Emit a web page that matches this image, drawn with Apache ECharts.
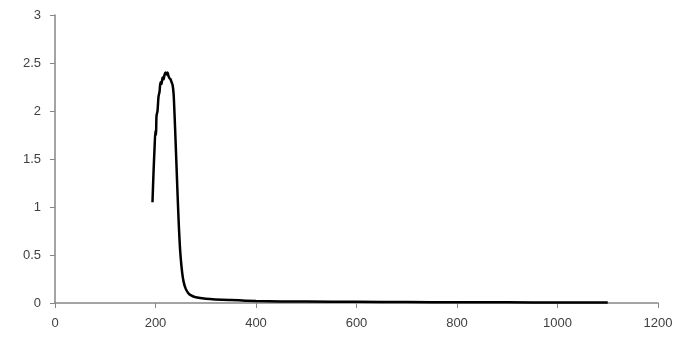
<!DOCTYPE html>
<html>
<head>
<meta charset="utf-8">
<script src="https://cdn.jsdelivr.net/npm/echarts@6/dist/echarts.min.js"></script>
<style>
    html, body { margin: 0; padding: 0; background: #fff; }
    #chart { width: 683px; height: 337px; }
</style>
</head>
<body>
<div id="chart"></div>
<script>
    var xValues = [194, 196, 198, 200, 201, 202, 204, 206, 208, 210, 212, 214, 216, 218, 220, 222, 224, 226, 228, 230,
        232, 234, 236, 238, 240, 242, 244, 246, 248, 250, 253, 256, 260, 265, 270, 280, 300, 350, 400, 500,
        600, 700, 800, 900, 1000, 1100];
    var yValues = [1.05, 1.35, 1.6, 1.8, 1.75, 1.95, 2.0, 2.15, 2.2, 2.3, 2.28, 2.35, 2.33, 2.38, 2.4, 2.38, 2.4, 2.36, 2.34, 2.33,
        2.3, 2.27, 2.18, 1.95, 1.68, 1.4, 1.12, 0.86, 0.64, 0.48, 0.32, 0.22, 0.15, 0.105, 0.082, 0.06, 0.045, 0.03, 0.02, 0.015,
        0.012, 0.01, 0.008, 0.007, 0.006, 0.005];

    var points = xValues.map(function (x, i) { return [x, yValues[i]]; });

    var myChart = echarts.init(document.getElementById('chart'));
    var axisText = { color: '#404040', fontSize: 13, fontFamily: 'Liberation Sans, Arial, sans-serif' };
    myChart.setOption({
        animation: false,
        grid: { left: 55, right: 25, top: 15, bottom: 34 },
        xAxis: {
            type: 'value',
            min: 0, max: 1200, interval: 200,
            axisLine: { show: true, lineStyle: { color: '#868686', width: 1.5 } },
            axisTick: { show: true, length: 5, lineStyle: { color: '#868686' } },
            axisLabel: Object.assign({ margin: 14, formatter: function (v) { return String(v); } }, axisText),
            splitLine: { show: false }
        },
        yAxis: {
            type: 'value',
            min: 0, max: 3, interval: 0.5,
            axisLine: { show: true, lineStyle: { color: '#868686', width: 1.5 } },
            axisTick: { show: true, length: 5, lineStyle: { color: '#868686' } },
            axisLabel: Object.assign({ margin: 14, formatter: function (v) { return String(v); } }, axisText),
            splitLine: { show: false }
        },
        series: [{
            type: 'line',
            data: points,
            showSymbol: false,
            smooth: 0.3,
            lineStyle: { color: '#000', width: 2.5 }
        }]
    });
</script>
</body>
</html>
